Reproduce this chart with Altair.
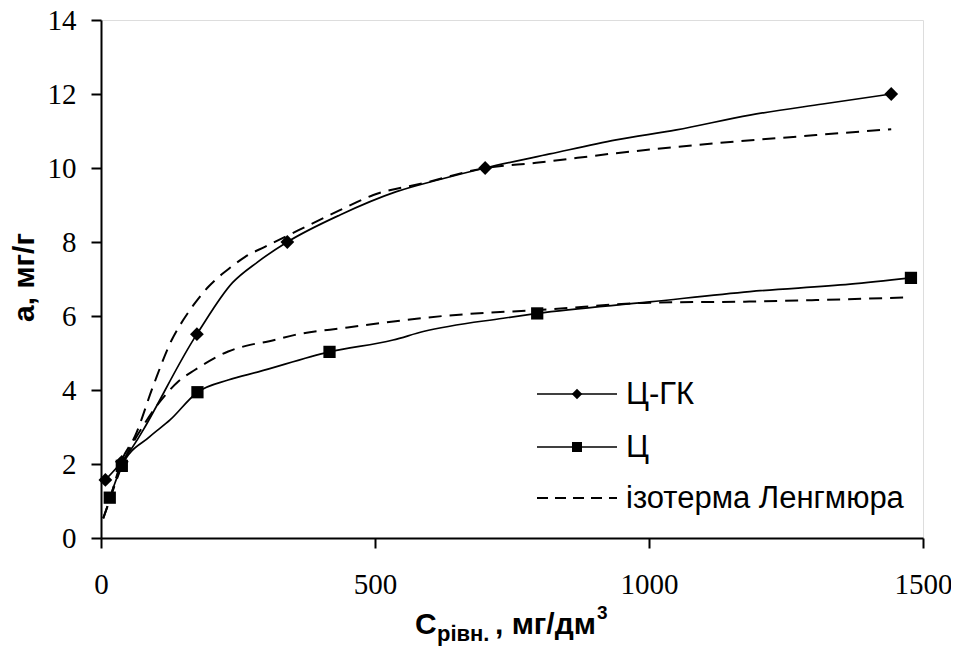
import altair as alt
import pandas as pd

# ---- data ----
# markers
cgk_x = [8, 38, 175, 340, 701, 1442]
cgk_y = [1.57, 2.06, 5.51, 8.0, 10.0, 12.0]
c_x = [16, 38, 176, 417, 796, 1478]
c_y = [1.09, 1.95, 3.94, 5.03, 6.07, 7.03]

# solid curve paths
cgk_line_x = [8, 38, 175, 240, 285, 340, 436, 539, 618, 701, 819, 940, 1050, 1184, 1317, 1442]
cgk_line_y = [1.57, 2.06, 5.51, 6.9, 7.45, 8.0, 8.73, 9.36, 9.69, 10.0, 10.38, 10.76, 11.03, 11.43, 11.73, 12.0]
c_line_x = [16, 38, 89, 126, 176, 232, 287, 417, 533, 588, 734, 796, 1001, 1184, 1367, 1478]
c_line_y = [1.09, 1.95, 2.74, 3.19, 3.94, 4.27, 4.49, 5.03, 5.35, 5.58, 5.94, 6.07, 6.38, 6.66, 6.86, 7.03]

# Langmuir isotherm (dashed) curves
lang_cgk_x = [4, 14, 38, 62, 95, 129, 150, 171, 196, 238, 263, 299, 336, 436, 497, 588, 701, 794, 940, 1123, 1305, 1442]
lang_cgk_y = [0.53, 0.95, 2.1, 2.75, 4.1, 5.35, 5.89, 6.34, 6.79, 7.33, 7.6, 7.87, 8.14, 8.86, 9.27, 9.59, 10.0, 10.14, 10.40, 10.67, 10.89, 11.05]
lang_c_x = [4, 14, 38, 80, 120, 141, 171, 232, 272, 305, 354, 445, 624, 819, 1001, 1183, 1305, 1466]
lang_c_y = [0.53, 0.95, 1.95, 3.1, 3.91, 4.23, 4.54, 5.04, 5.22, 5.31, 5.49, 5.68, 6.0, 6.18, 6.36, 6.39, 6.43, 6.5]

legend_labels = ["Ц-ГК", "Ц", "ізотерма Ленгмюра"]
x_ticks = [0, 500, 1000, 1500]
y_ticks = [0, 2, 4, 6, 8, 10, 12, 14]

W, H = 822, 518
SERIF = "Times New Roman, Liberation Serif, serif"
SANS = "Arial, Liberation Sans, sans-serif"

axis_common = dict(
    domainColor="black", domainWidth=2, tickColor="black", tickWidth=2, tickSize=10,
    labelFont=SERIF, labelFontSize=29, labelColor="black", grid=False, labelFlush=False,
)

X = alt.X("x:Q", scale=alt.Scale(domain=[0, 1500], nice=False, zero=False),
          axis=alt.Axis(values=x_ticks, title=None, labelPadding=22, format="d", **axis_common))
Y = alt.Y("y:Q", scale=alt.Scale(domain=[0, 14], nice=False),
          axis=alt.Axis(values=y_ticks, title="а, мг/г", titleFont=SANS,
                        titleFontSize=30, titleFontWeight="bold", titleColor="black",
                        titleAngle=-90, titleX=-68, titleY=257, titleAlign="center",
                        titleBaseline="alphabetic", labelPadding=15, **axis_common))

def df(xs, ys):
    return pd.DataFrame({"x": xs, "y": ys, "o": list(range(len(xs)))})

line_cgk = alt.Chart(df(cgk_line_x, cgk_line_y)).mark_line(
    color="black", strokeWidth=1.7, interpolate="monotone").encode(x=X, y=Y, order="o:Q")
line_c = alt.Chart(df(c_line_x, c_line_y)).mark_line(
    color="black", strokeWidth=1.7, interpolate="monotone").encode(x=X, y=Y, order="o:Q")
lang1 = alt.Chart(df(lang_cgk_x, lang_cgk_y)).mark_line(
    color="black", strokeWidth=2, strokeDash=[13, 8], interpolate="monotone").encode(x=X, y=Y, order="o:Q")
lang2 = alt.Chart(df(lang_c_x, lang_c_y)).mark_line(
    color="black", strokeWidth=2, strokeDash=[13, 8], interpolate="monotone").encode(x=X, y=Y, order="o:Q")
pts_cgk = alt.Chart(df(cgk_x, cgk_y)).mark_point(
    shape="diamond", filled=True, color="black", size=190, opacity=1).encode(x=X, y=Y)
pts_c = alt.Chart(df(c_x, c_y)).mark_point(
    shape="square", filled=True, color="black", size=150, opacity=1).encode(x=X, y=Y)

# ---- x-axis title with sub/superscript ----
def txt(s, x, y, size, weight="bold", align="left", baseline="alphabetic"):
    return alt.Chart(pd.DataFrame({"t": [s]})).mark_text(
        font=SANS, fontSize=size, fontWeight=weight, align=align, baseline=baseline, color="black"
    ).encode(x=alt.value(x), y=alt.value(y), text="t:N")

t1 = txt("C", 314, 614, 30)
t2 = txt("рівн.", 336, 621, 22)
t3 = txt(", мг/дм", 394, 614, 30)
t4 = txt("3", 496, 599, 19)

# ---- legend ----
lx1, lx2, lmx, ltx = 436, 516, 476, 525
ly = [374, 427, 478]
leg_r1 = alt.Chart(pd.DataFrame({"a": [0]})).mark_rule(color="black", strokeWidth=1.7).encode(
    x=alt.value(lx1), x2=alt.value(lx2), y=alt.value(ly[0]))
leg_r2 = alt.Chart(pd.DataFrame({"a": [0]})).mark_rule(color="black", strokeWidth=1.7).encode(
    x=alt.value(lx1), x2=alt.value(lx2), y=alt.value(ly[1]))
leg_r3 = alt.Chart(pd.DataFrame({"a": [0]})).mark_rule(color="black", strokeWidth=2, strokeDash=[11, 7]).encode(
    x=alt.value(lx1), x2=alt.value(lx2), y=alt.value(ly[2]))
leg_p1 = alt.Chart(pd.DataFrame({"a": [0]})).mark_point(
    shape="diamond", filled=True, color="black", size=110, opacity=1).encode(x=alt.value(lmx), y=alt.value(ly[0]))
leg_p2 = alt.Chart(pd.DataFrame({"a": [0]})).mark_point(
    shape="square", filled=True, color="black", size=100, opacity=1).encode(x=alt.value(lmx), y=alt.value(ly[1]))
leg_texts = [txt(lab, ltx, yy + 1, 31, weight="normal", baseline="middle")
             for lab, yy in zip(legend_labels, ly)]

chart = alt.layer(
    lang1, lang2, line_cgk, line_c, pts_cgk, pts_c,
    t1, t2, t3, t4,
    leg_r1, leg_r2, leg_r3, leg_p1, leg_p2, *leg_texts
).properties(
    width=W, height=H,
    autosize=alt.AutoSizeParams(type="none"),
    padding={"left": 93, "top": 12, "right": 28, "bottom": 110},
).configure_view(stroke=None).configure(background="white")

chart.save("out.html", embed_options={"renderer": "svg", "actions": False})
